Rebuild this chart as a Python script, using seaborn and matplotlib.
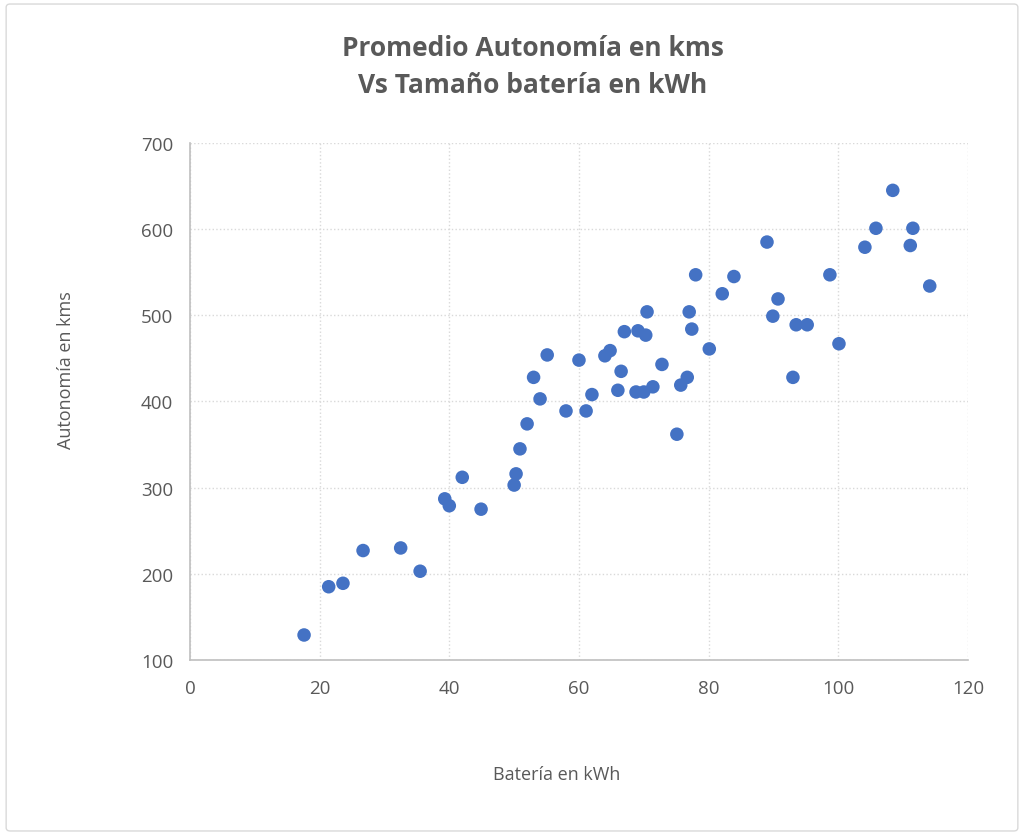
import numpy as np
import pandas as pd
import matplotlib
matplotlib.use('Agg')
import matplotlib.pyplot as plt
import seaborn as sns
from matplotlib.patches import FancyBboxPatch

# datos: bateria (kWh) y autonomia (kms)
bateria = [17.6, 21.4, 23.6, 26.7, 32.5, 35.5, 39.3, 40.0, 42.0, 44.9,
           50.0, 50.3, 50.9, 52.0, 53.0, 54.0, 55.1, 58.0, 60.0, 61.1,
           62.0, 64.0, 64.8, 66.0, 66.5, 67.0, 68.8, 69.1, 70.0, 70.3,
           70.5, 71.4, 72.8, 75.1, 75.7, 76.7, 77.0, 77.4, 78.0, 80.1,
           82.1, 83.9, 89.0, 89.9, 90.7, 93.0, 93.5, 95.2, 98.7, 100.1,
           104.1, 105.8, 108.4, 111.1, 111.5, 114.1]
autonomia = [129, 185, 189, 227, 230, 203, 287, 279, 312, 275,
             303, 316, 345, 374, 428, 403, 454, 389, 448, 389,
             408, 453, 459, 413, 435, 481, 411, 482, 411, 477,
             504, 417, 443, 362, 419, 428, 504, 484, 547, 461,
             525, 545, 585, 499, 519, 428, 489, 489, 547, 467,
             579, 601, 645, 581, 601, 534]

df = pd.DataFrame({'Batería': bateria, 'Autonomía': autonomia})

sns.set_style('white')
plt.rcParams['font.family'] = ['Open Sans', 'DejaVu Sans']
gris = '#595959'

fig = plt.figure(figsize=(10.24, 8.37), dpi=100)
ax = fig.add_axes([0.1855, 0.2103, 0.7598, 0.6177])

sns.scatterplot(data=df, x='Batería', y='Autonomía', ax=ax,
                color='#4472C4', s=95, edgecolor='none', zorder=3)

ax.set_xlim(0, 120)
ax.set_ylim(100, 700)
ax.set_xticks(range(0, 121, 20))
ax.set_yticks(range(100, 701, 100))
ax.grid(True, color='#d9d9d9', linestyle=':', linewidth=1)
ax.tick_params(colors=gris, labelsize=13.5, length=0)
ax.tick_params(axis='y', pad=12)
ax.tick_params(axis='x', pad=14)

for side in ['top', 'right']:
    ax.spines[side].set_visible(False)
for side in ['left', 'bottom']:
    ax.spines[side].set_color('#bfbfbf')
    ax.spines[side].set_linewidth(1.2)

ax.set_xlabel('')
ax.set_ylabel('')
fig.text(0.544, 0.074, 'Batería en kWh', ha='center', va='center',
         fontsize=13, color=gris)
fig.text(0.064, 0.558, 'Autonomía en kms', ha='center', va='center',
         fontsize=13, color=gris, rotation=90)
fig.text(0.52, 0.920, 'Promedio Autonomía en kms\nVs Tamaño batería en kWh',
         ha='center', va='center', fontsize=19, fontweight='bold',
         color=gris, linespacing=1.5)

# marco exterior del grafico
fig.patches.append(FancyBboxPatch((0.006, 0.006), 0.988, 0.988,
                                  boxstyle='round,pad=0,rounding_size=0.004',
                                  transform=fig.transFigure, fill=False,
                                  edgecolor='#d9d9d9', linewidth=1))

fig.savefig('out.png', dpi=100)
